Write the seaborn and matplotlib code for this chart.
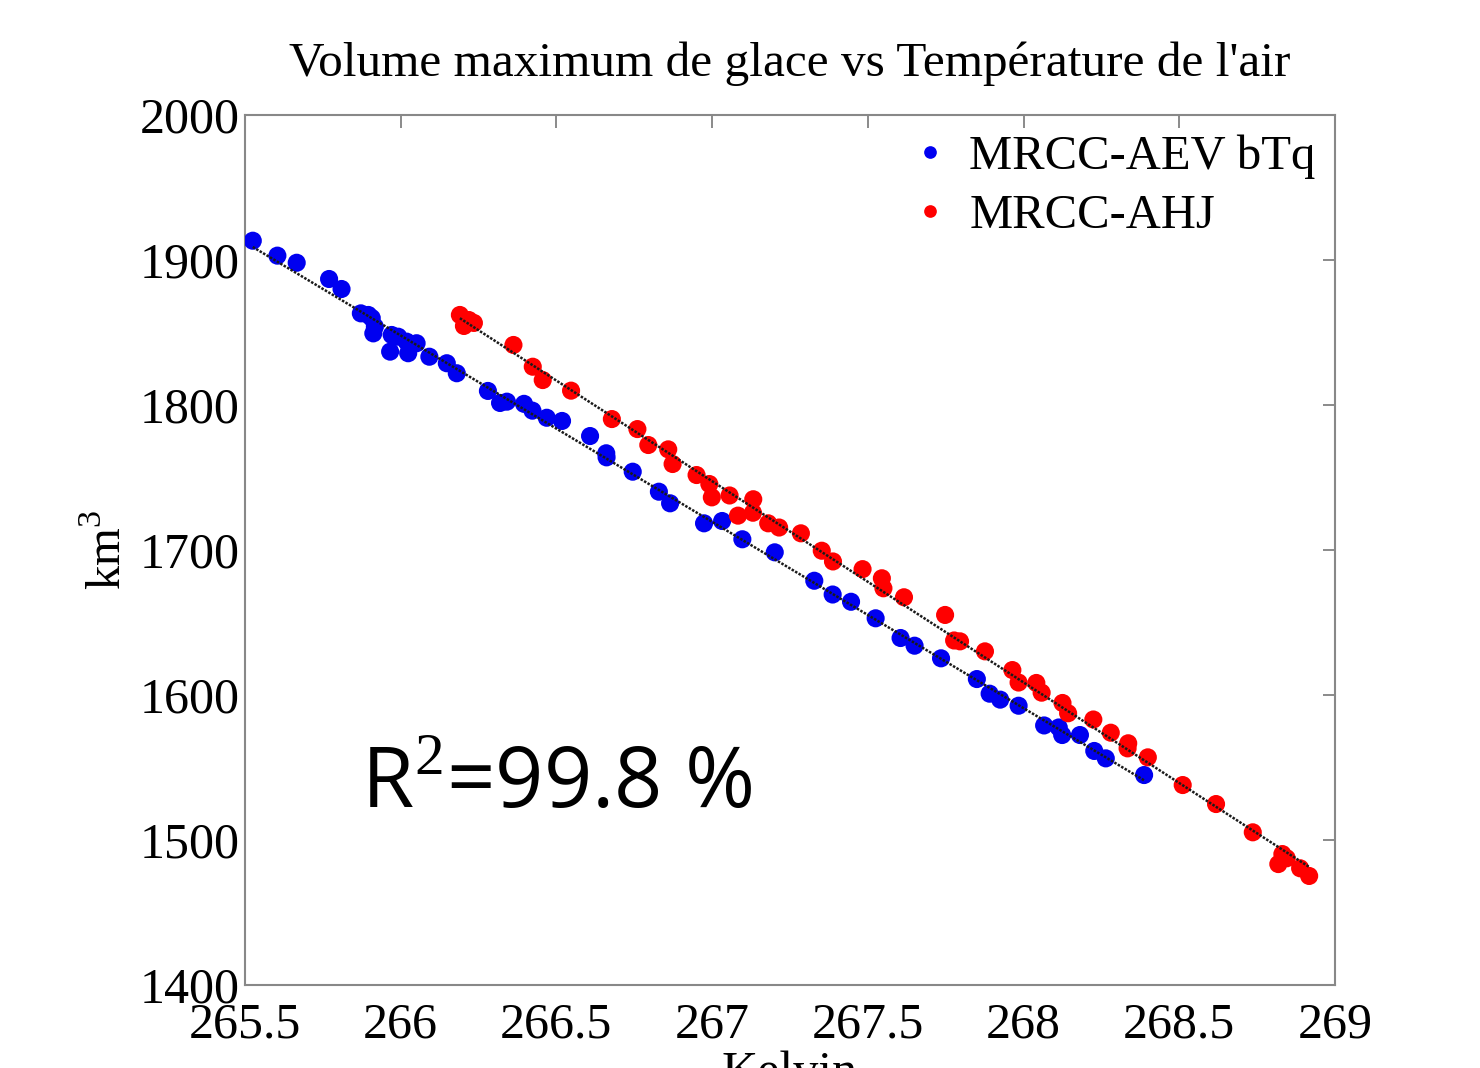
import numpy as np
import pandas as pd
import matplotlib
matplotlib.use("Agg")
import matplotlib.pyplot as plt
import seaborn as sns

# ---- data (Kelvin, km^3) ----
aev_T = [265.525, 265.604, 265.666, 265.770, 265.810, 265.872, 265.896, 265.907, 265.917, 265.912,
         265.971, 265.966, 265.992, 266.019, 266.024, 266.051, 266.092, 266.148, 266.180, 266.280,
         266.319, 266.341, 266.396, 266.423, 266.469, 266.518, 266.608, 266.660, 266.661, 266.745,
         266.829, 266.865, 266.974, 267.032, 267.097, 267.201, 267.328, 267.387, 267.446, 267.525,
         267.605, 267.650, 267.735, 267.850, 267.891, 267.925, 267.984, 268.066, 268.113, 268.124,
         268.181, 268.227, 268.264, 268.387]
aev_V = [1913.3, 1903.0, 1898.1, 1886.9, 1880.0, 1863.2, 1862.1, 1860.0, 1854.0, 1849.4,
         1848.3, 1836.8, 1847.1, 1843.7, 1835.7, 1842.6, 1833.3, 1828.8, 1821.9, 1809.7,
         1801.4, 1802.3, 1800.8, 1796.1, 1791.2, 1789.0, 1778.6, 1766.7, 1763.9, 1754.0,
         1740.2, 1732.2, 1718.4, 1720.0, 1707.4, 1698.4, 1678.8, 1669.3, 1664.3, 1652.9,
         1639.3, 1634.0, 1625.3, 1611.0, 1600.9, 1596.8, 1592.6, 1579.0, 1577.6, 1572.4,
         1572.4, 1561.4, 1556.3, 1544.8]

ahj_T = [266.190, 266.203, 266.219, 266.235, 266.362, 266.424, 266.456, 266.547, 266.678, 266.760,
         266.795, 266.859, 266.873, 266.950, 266.991, 266.999, 267.056, 267.132, 267.083, 267.131,
         267.180, 267.215, 267.285, 267.352, 267.388, 267.483, 267.545, 267.550, 267.616, 267.748,
         267.777, 267.796, 267.876, 267.964, 267.984, 268.041, 268.058, 268.125, 268.143, 268.224,
         268.280, 268.336, 268.334, 268.399, 268.511, 268.618, 268.736, 268.831, 268.845, 268.818,
         268.888, 268.917]
ahj_V = [1862.1, 1854.5, 1858.6, 1856.6, 1841.4, 1826.4, 1817.2, 1809.9, 1790.3, 1783.4,
         1772.4, 1769.4, 1759.3, 1751.7, 1745.5, 1736.3, 1737.6, 1735.0, 1723.7, 1725.7,
         1718.4, 1715.5, 1711.5, 1699.5, 1692.1, 1686.8, 1680.5, 1673.6, 1667.4, 1655.2,
         1637.6, 1637.0, 1630.1, 1617.2, 1608.6, 1608.3, 1601.6, 1594.5, 1587.4, 1583.1,
         1574.0, 1566.7, 1563.2, 1557.0, 1537.9, 1524.8, 1505.3, 1490.3, 1487.4, 1483.4,
         1480.5, 1475.2]

series_names = ["MRCC-AEV bTq", "MRCC-AHJ"]
series_colors = ["#0000f0", "#ff0000"]
x_ticks = [265.5, 266, 266.5, 267, 267.5, 268, 268.5, 269]
x_tick_labels = ["265.5", "266", "266.5", "267", "267.5", "268", "268.5", "269"]
y_ticks = [1400, 1500, 1600, 1700, 1800, 1900, 2000]
title_text = "Volume maximum de glace vs Température de l'air"
r2_text = "R$^2$=99.8 %"

df = pd.concat([
    pd.DataFrame({"T": aev_T, "V": aev_V, "serie": series_names[0]}),
    pd.DataFrame({"T": ahj_T, "V": ahj_V, "serie": series_names[1]}),
], ignore_index=True)

sns.set_theme(style="white")
plt.rcParams["font.family"] = ["Liberation Serif", "DejaVu Serif"]
plt.rcParams["mathtext.fontset"] = "custom"
plt.rcParams["mathtext.rm"] = "Liberation Serif"
plt.rcParams["text.color"] = "black"
plt.rcParams["axes.labelcolor"] = "black"
plt.rcParams["axes.titlecolor"] = "black"

fig = plt.figure(figsize=(14.8, 10.68), dpi=100)
ax = fig.add_axes([245 / 1480, 1 - 985 / 1068, 1090 / 1480, 870 / 1068])

sns.scatterplot(data=df, x="T", y="V", hue="serie", palette=series_colors,
                hue_order=series_names, s=170, edgecolor=None, linewidth=0,
                ax=ax, zorder=3)

for name in series_names:
    sub = df[df["serie"] == name]
    sns.regplot(data=sub, x="T", y="V", scatter=False, ci=None, truncate=True,
                ax=ax, line_kws=dict(color="#1a1a1a", lw=1.8, ls=(0, (1, 0.6)), zorder=4))

ax.set_xlim(265.5, 269)
ax.set_ylim(1400, 2000)
ax.set_xticks(x_ticks)
ax.set_xticklabels(x_tick_labels)
ax.set_yticks(y_ticks)
ax.tick_params(axis="both", direction="in", length=9, width=1.2, color="#777777",
               labelsize=36, top=True, right=True, pad=4, labelcolor="black")
ax.tick_params(axis="x", pad=12)
for sp in ax.spines.values():
    sp.set_color("#888888")
    sp.set_linewidth(1.5)
    sp.set_visible(True)

ax.set_xlabel("Kelvin", fontsize=36, labelpad=2)
ax.set_ylabel("km$^3$", fontsize=35, labelpad=6)
ax.set_title(title_text, fontsize=35.5, pad=28)

ax.text(0.106, 0.203, r2_text, transform=ax.transAxes, fontsize=61,
        family=["Open Sans", "DejaVu Sans"], color="black", ha="left", va="baseline")

leg = ax.legend(loc="upper right", frameon=False, fontsize=35, markerscale=0.7,
                handletextpad=0.3, borderaxespad=0.1, labelspacing=0.3,
                handlelength=1.0, borderpad=0.3)

fig.savefig("out.png", dpi=100)
